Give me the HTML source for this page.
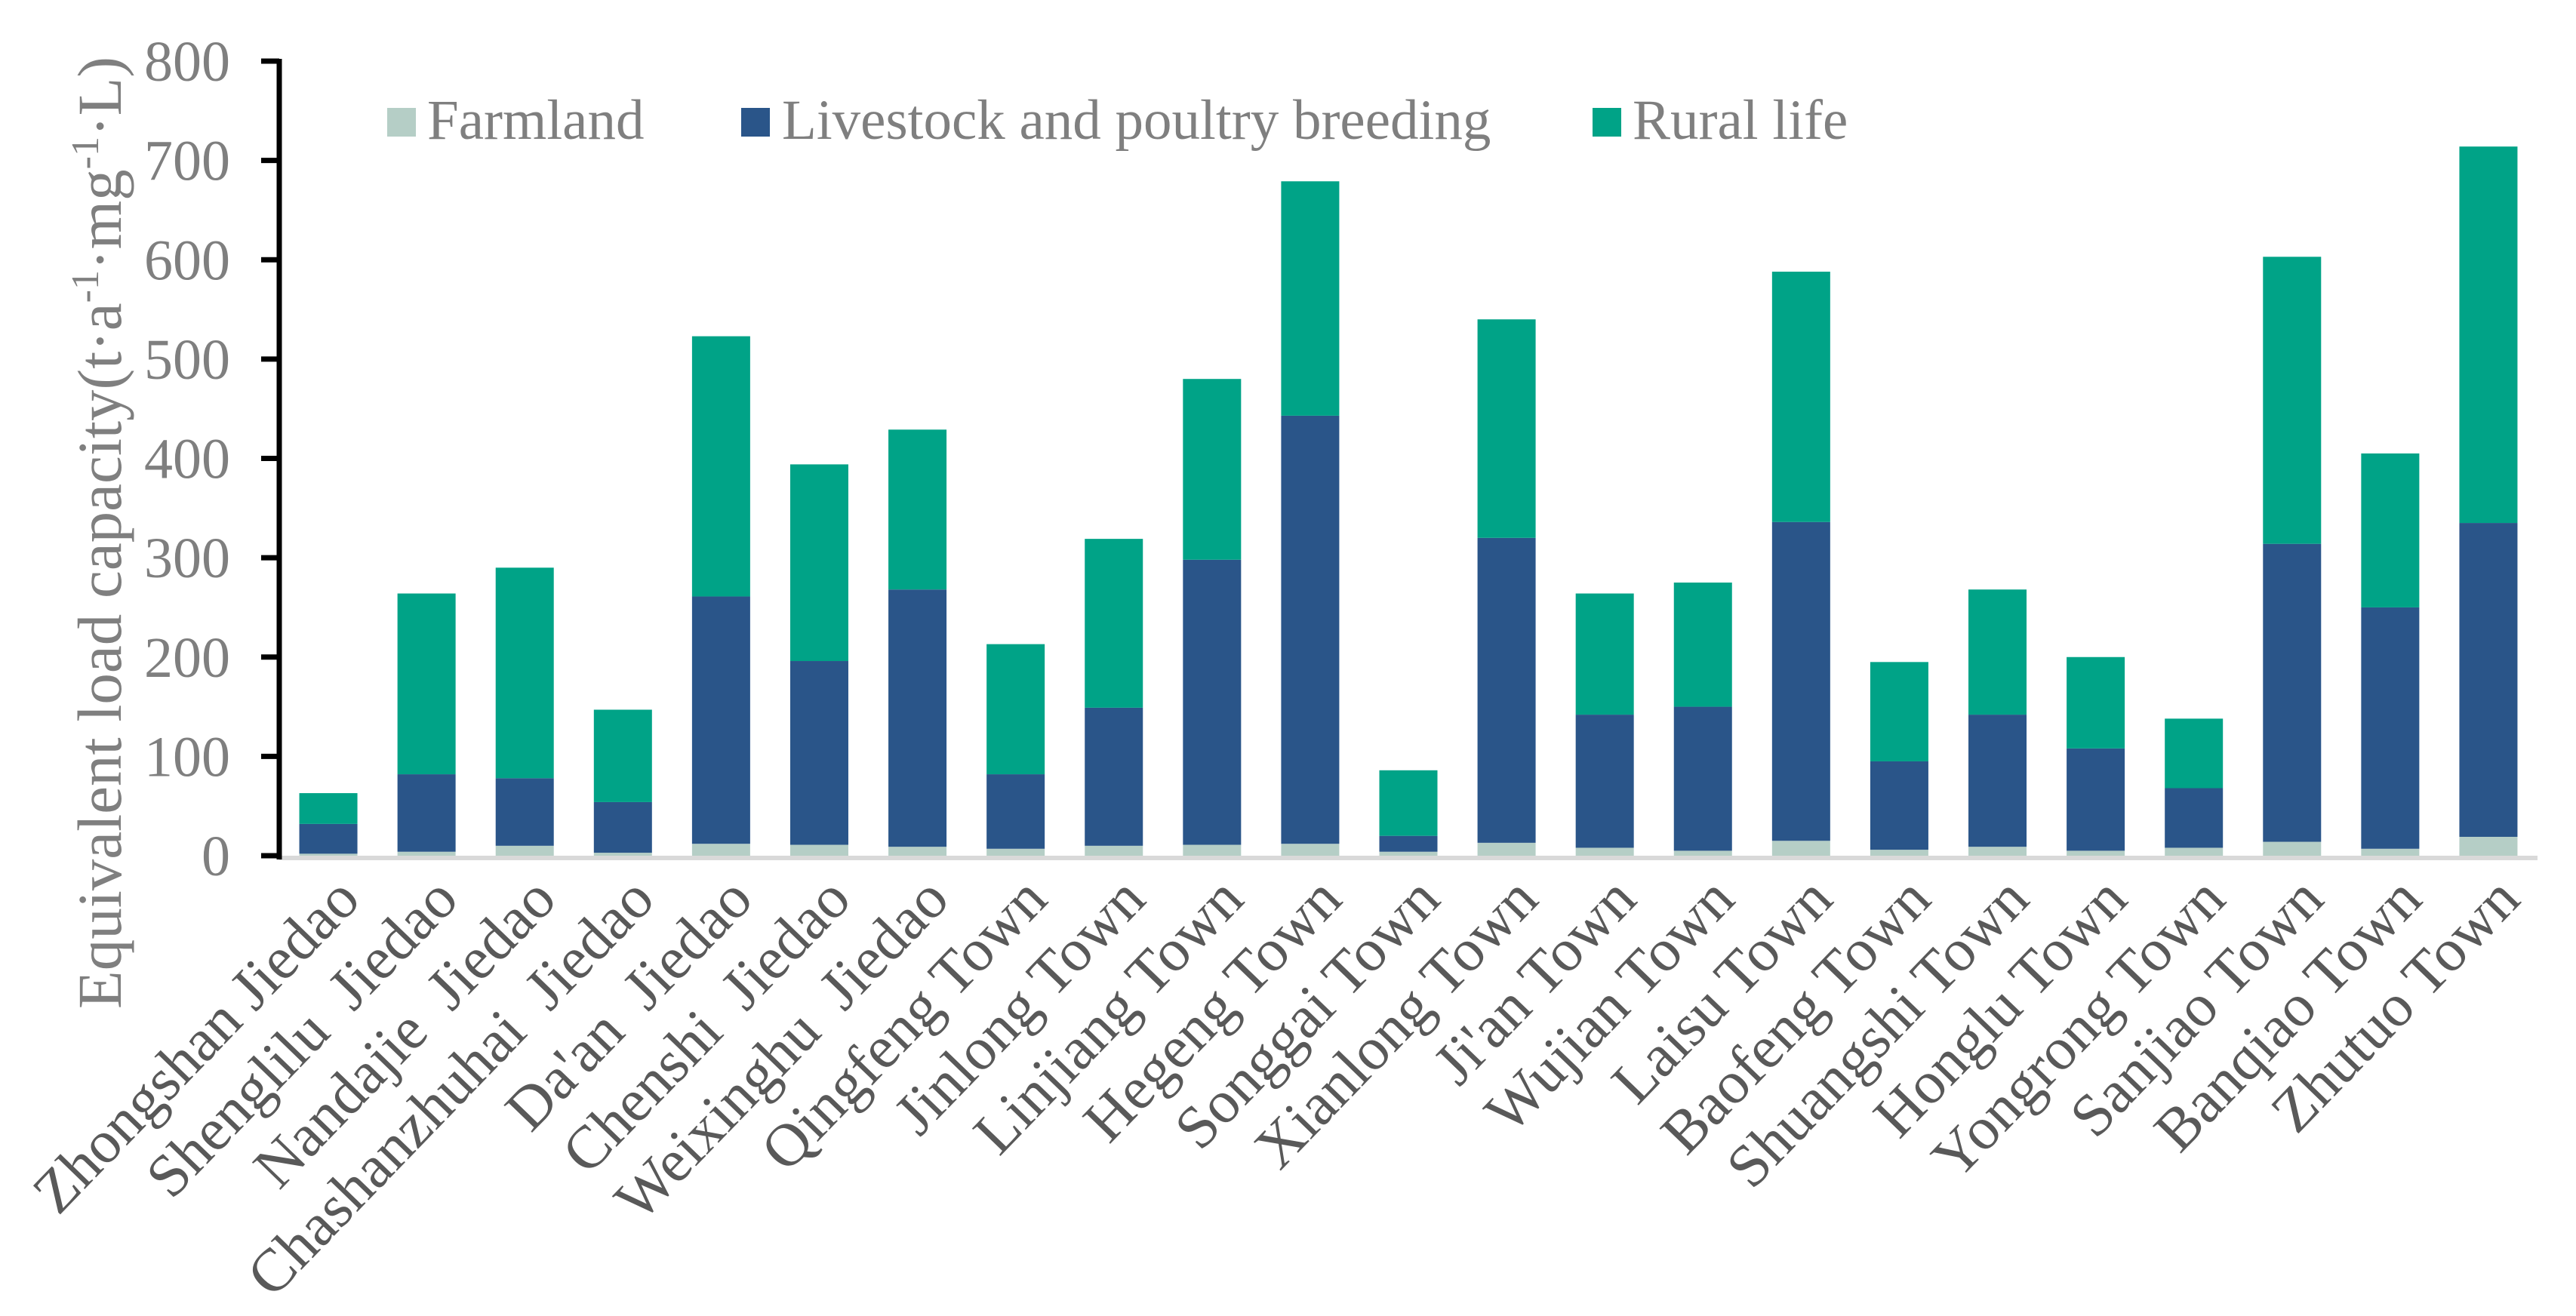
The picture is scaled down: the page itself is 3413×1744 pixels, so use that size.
<!DOCTYPE html>
<html><head><meta charset="utf-8"><style>
html,body{margin:0;padding:0;background:#fff;}
svg{display:block;font-family:"Liberation Serif",serif;}
#xlabels text{white-space:pre;}
</style></head><body>
<svg id="chart" width="3413" height="1744" viewBox="0 0 3413 1744">
<g id="plot"></g>
<g id="xlabels"></g>
<g id="ylabels"></g>
<text transform="translate(160,706) rotate(-90)" text-anchor="middle" font-size="83" fill="#7f7f7f">Equivalent load capacity(t·a<tspan font-size="52" dy="-30">-1</tspan><tspan dy="30">·mg</tspan><tspan font-size="52" dy="-30">-1</tspan><tspan dy="30">·L)</tspan></text>
<g>
<g><rect x="513" y="143" width="38" height="38" fill="#b5cec6"/><text x="566" y="184" font-size="75" fill="#7f7f7f">Farmland</text></g>
<g><rect x="982" y="143" width="38" height="38" fill="#2a5589"/><text x="1036" y="184" font-size="75" fill="#7f7f7f">Livestock and poultry breeding</text></g>
<g><rect x="2110" y="143" width="38" height="38" fill="#00a387"/><text x="2163" y="184" font-size="75" fill="#7f7f7f">Rural life</text></g>
</g>
</svg>
<script>
const categories=["Zhongshan Jiedao","Shenglilu  Jiedao","Nandajie  Jiedao","Chashanzhuhai  Jiedao","Da'an  Jiedao","Chenshi  Jiedao","Weixinghu  Jiedao","Qingfeng Town","Jinlong Town","Linjiang Town","Hegeng Town","Songgai Town","Xianlong Town","Ji'an Town","Wujian Town","Laisu Town","Baofeng Town","Shuangshi Town","Honglu Town","Yongrong Town","Sanjiao Town","Banqiao Town","Zhutuo Town"];
const farmland=[2,4,10,3,12,11,9,7,10,11,12,4,13,8,5,15,6,9,5,8,14,7,19];
const livestock=[30,78,68,51,249,185,259,75,139,287,431,16,307,134,145,321,89,133,103,60,300,243,316];
const rural=[31,182,212,93,262,198,161,131,170,182,236,66,220,122,125,252,100,126,92,70,289,155,379];
const yTicks=[0,100,200,300,400,500,600,700,800];
const NS="http://www.w3.org/2000/svg";
const X0=370,X1=3362,Y0=1134,Y800=81,yMax=800;
const band=(X1-X0)/categories.length,barW=77;
function y(v){return Y0-(v/yMax)*(Y0-Y800);}
function xc(i){return X0+band*(i+0.5);}
function mk(tag,attrs,parent){const e=document.createElementNS(NS,tag);for(const k in attrs)e.setAttribute(k,attrs[k]);parent.appendChild(e);return e;}
const plot=document.getElementById('plot'),xl=document.getElementById('xlabels'),yl=document.getElementById('ylabels');
const series=[[farmland,'#b5cec6','farmland'],[livestock,'#2a5589','livestock'],[rural,'#00a387','rural-life']];
categories.forEach((c,i)=>{
  let base=0;
  series.forEach(([arr,col,nm])=>{
    const v=arr[i];
    const r=mk('rect',{x:xc(i)-barW/2,y:y(base+v),width:barW,height:y(base)-y(base+v),fill:col},plot);
    
    
    base+=v;
  });
  const t=mk('text',{x:0,y:0,transform:`translate(${xc(i)+45},1195) rotate(-46)`,'text-anchor':'end','font-size':80,fill:'#595959'},xl);
  t.textContent=c;
  
  
});
const base=mk('line',{x1:X0,x2:X1,y1:Y0+3,y2:Y0+3,stroke:'#d9d9d9','stroke-width':6},plot);


const ax=mk('line',{x1:X0,x2:X0,y1:Y800-3,y2:Y0+5,stroke:'#000','stroke-width':7},plot);


yTicks.forEach(v=>{
  const tk=mk('line',{x1:X0-24,x2:X0,y1:y(v),y2:y(v),stroke:'#000','stroke-width':7},yl);
  
  
  const t=mk('text',{x:305,y:y(v)+26,'text-anchor':'end','font-size':76,fill:'#7f7f7f'},yl);
  t.textContent=v;
  
  
});
</script>
</body></html>
